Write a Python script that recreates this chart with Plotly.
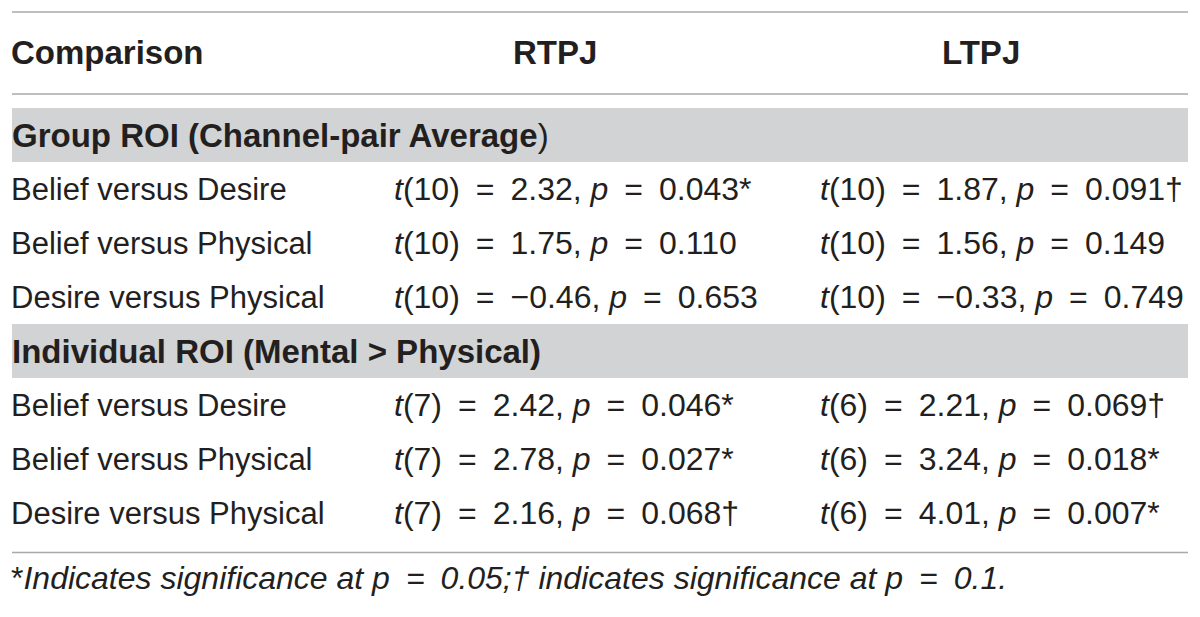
import plotly.graph_objects as go

# table contents
headers = ["Comparison", "RTPJ", "LTPJ"]
sections = ["<b>Group ROI (Channel-pair Average</b>)", "<b>Individual ROI (Mental > Physical)</b>"]
comparisons = ["Belief versus Desire", "Belief versus Physical", "Desire versus Physical"]

rtpj_df = [10, 10, 10, 7, 7, 7]
rtpj_t = ["2.32", "1.75", "−0.46", "2.42", "2.78", "2.16"]
rtpj_p = ["0.043", "0.110", "0.653", "0.046", "0.027", "0.068"]
rtpj_sig = ["*", "", "", "*", "*", "†"]

ltpj_df = [10, 10, 10, 6, 6, 6]
ltpj_t = ["1.87", "1.56", "−0.33", "2.21", "3.24", "4.01"]
ltpj_p = ["0.091", "0.149", "0.749", "0.069", "0.018", "0.007"]
ltpj_sig = ["†", "", "", "†", "*", "*"]

EQ = "\u2002=\u2002"
footnote = f"*<i>Indicates significance at p{EQ}0.05;† indicates significance at p{EQ}0.1.</i>"

TXT = "#231f20"
BAND = "#d1d3d4"
RULE = "#a7a9ac"
FONT = "Liberation Sans"
SIZE = 31


def stat(df, t, p, sig):
    return f"<i>t</i>({df}){EQ}{t}, <i>p</i>{EQ}{p}{sig}"


fig = go.Figure()

# row index: section band rows and data rows on one axis
section_rows = [0, 4]
data_rows = [1, 2, 3, 5, 6, 7]

shapes = []
for r in [-2.28, -0.76, 7.73]:
    shapes.append(dict(type="line", x0=12, x1=1188, y0=r, y1=r, xref="x", yref="y",
                       line=dict(color=RULE, width=1.5)))
for r in section_rows:
    shapes.append(dict(type="rect", x0=12, x1=1188, y0=r - 0.5, y1=r + 0.5, xref="x", yref="y",
                       fillcolor=BAND, line=dict(width=0), layer="below"))

ann = []
hx = [9, 555, 981]
hanchor = ["left", "center", "center"]
for h, x, a in zip(headers, hx, hanchor):
    ann.append(dict(x=x, y=-1.52, text=f"<b>{h}</b>", xanchor=a, showarrow=False,
                    font=dict(size=33)))

for s, r in zip(sections, section_rows):
    ann.append(dict(x=10, y=r, text=s, xanchor="left", showarrow=False, font=dict(size=33)))

for i, r in enumerate(data_rows):
    ann.append(dict(x=9, y=r, text=comparisons[i % 3], xanchor="left", showarrow=False))
    ann.append(dict(x=392, y=r, text=stat(rtpj_df[i], rtpj_t[i], rtpj_p[i], rtpj_sig[i]),
                    xanchor="left", showarrow=False, font=dict(size=32)))
    ann.append(dict(x=818, y=r, text=stat(ltpj_df[i], ltpj_t[i], ltpj_p[i], ltpj_sig[i]),
                    xanchor="left", showarrow=False, font=dict(size=32)))

ann.append(dict(x=9, y=8.2, text=footnote, xanchor="left", showarrow=False, font=dict(size=32)))

fig.update_layout(
    width=1200, height=617,
    margin=dict(l=0, r=0, t=0, b=0),
    paper_bgcolor="white", plot_bgcolor="white",
    font=dict(family=FONT, size=SIZE, color=TXT),
    # ranges offset by the page's 8px body margin
    xaxis=dict(range=[8, 1208], visible=False, fixedrange=True),
    yaxis=dict(range=[9.074, -2.352], visible=False, fixedrange=True),
    shapes=shapes,
    annotations=ann,
    showlegend=False,
)

fig.write_html("out.html")
